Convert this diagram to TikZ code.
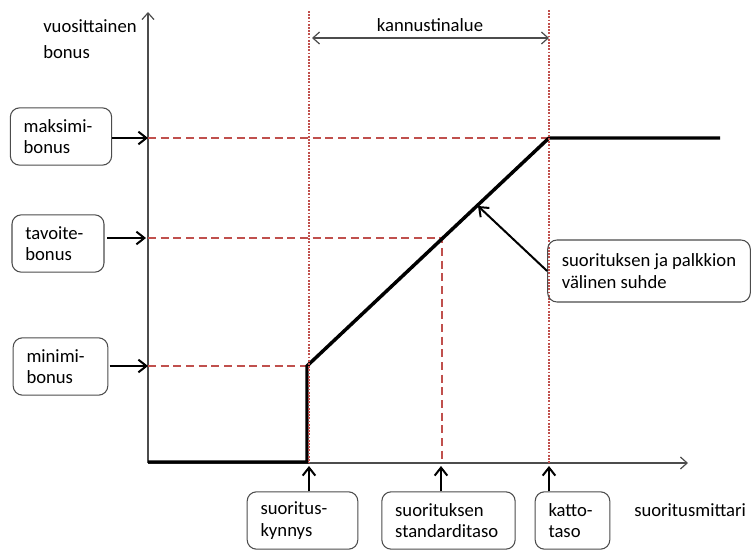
\documentclass[tikz,border=0pt]{standalone}
\usepackage{fontspec}
\setmainfont{Carlito}
\usetikzlibrary{arrows.meta}

\definecolor{punainen}{RGB}{192,80,77}

\def\xAx{148}
\def\yAx{463}
\def\xKyn{309}
\def\xStd{442}
\def\xKat{549}
\def\yMaks{138}
\def\yTav{238}
\def\yMin{366}

\begin{document}
\begin{tikzpicture}[x=0.75pt, y=-0.75pt, >={Straight Barb[length=5pt,width=9pt]},
    font=\fontsize{14}{16}\selectfont,
    akseli/.style={black!70, line width=0.9pt},
    katko/.style={punainen, line width=1.9pt, dash pattern=on 6pt off 3.5pt},
    piste/.style={punainen, line width=1.9pt, dash pattern=on 1.3pt off 1.1pt},
    nuoli/.style={-{Straight Barb[length=6pt,width=9.5pt]}, line width=1.5pt},
    laatikko/.style={draw=black!70, line width=0.8pt, rounded corners=7pt,
      align=left, inner xsep=10pt, minimum height=43pt}]
  \useasboundingbox (0,0) rectangle (751,550);

  % akselit
  \draw[akseli, ->] (\xAx,\yAx) -- (\xAx,12);
  \draw[akseli, ->] (\xAx,\yAx) -- (688,\yAx);

  % apuviivat
  \draw[katko] (\xAx,\yMaks) -- (\xKat,\yMaks);
  \draw[katko] (\xAx,\yTav) -- (\xStd,\yTav) -- (\xStd,\yAx);
  \draw[katko] (\xAx,\yMin) -- (\xKyn,\yMin);

  % bonuskayra
  \draw[line width=2.6pt] (\xAx,462) -- (307,462) -- (307,\yMin) -- (\xKat,\yMaks) -- (720,\yMaks);

  \draw[piste] (\xKyn,11) -- (\xKyn,\yAx);
  \draw[piste] (\xKat,10) -- (\xKat,\yAx);

  % kannustinalue
  \coordinate (kanA) at (312,38);
  \coordinate (kanB) at (\xKat,38);
  \draw[akseli, <->] (kanA) -- (kanB);
  \node (kannustin) at (430,25) {kannustinalue};

  % tekstit
  \node[align=left, anchor=north west, inner sep=0pt] (ynimi) at (43,19) {vuosittainen\\[4pt]bonus};
  \node[anchor=west, inner sep=0pt] (xnimi) at (634,510) {suoritusmittari};

  % laatikot
  \node[laatikko, text width=56pt] (maksimi) at (61,136.5) {maksimi-\\bonus};
  \node[laatikko, text width=49pt] (tavoite) at (58,243.5) {tavoite-\\bonus};
  \node[laatikko, text width=51pt] (minimi) at (60.5,366.5) {minimi-\\bonus};
  \node[laatikko, text width=63pt] (kynnys) at (302.5,520.5) {suoritus-\\kynnys};
  \node[laatikko, text width=80pt] (standardi) at (448.5,520.5) {suorituksen\\standarditaso};
  \node[laatikko, text width=36pt] (katto) at (572.5,520.5) {katto-\\taso};
  \node[laatikko, minimum width=152pt, minimum height=46.5pt] (suhde) at (649,271) {suorituksen ja palkkion\\välinen suhde};

  % nuolet
  \coordinate (maksP) at (\xAx,\yMaks);
  \coordinate (tavP) at (146,\yTav);
  \coordinate (minP) at (\xAx,\yMin);
  \coordinate (kynP) at (\xKyn,466);
  \coordinate (stdP) at (441,466);
  \coordinate (katP) at (\xKat,466);
  \coordinate (suhdeP) at (478,206);
  \draw[nuoli] (maksimi.east |- maksP) -- (maksP);
  \draw[nuoli] ([xshift=2pt]tavoite.east |- tavP) -- (tavP);
  \draw[nuoli] ([xshift=1pt]minimi.east |- minP) -- (minP);
  \draw[nuoli] (kynnys.north -| kynP) -- (kynP);
  \draw[nuoli] (standardi.north -| stdP) -- (stdP);
  \draw[nuoli] (katto.north -| katP) -- (katP);
  \draw[nuoli] (suhde.west) -- (suhdeP);
\end{tikzpicture}
\end{document}
